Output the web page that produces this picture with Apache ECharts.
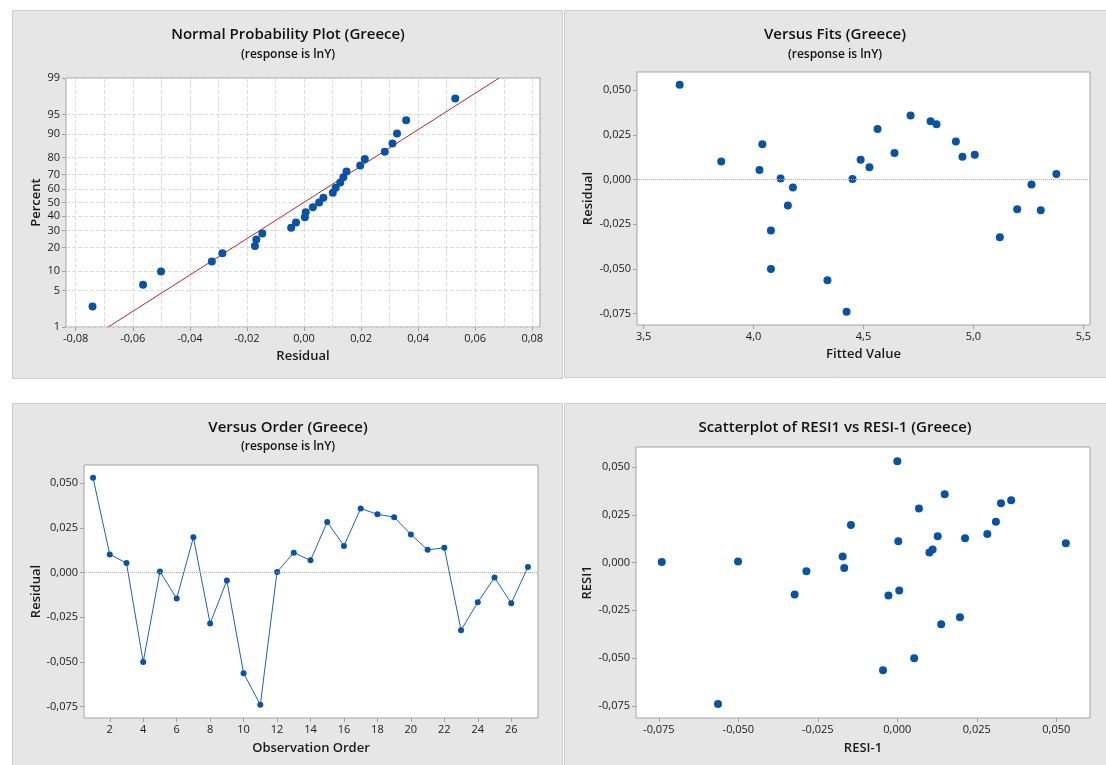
<!DOCTYPE html>
<html>
<head>
<meta charset="utf-8">
<script src="https://cdn.jsdelivr.net/npm/echarts@6/dist/echarts.min.js"></script>
<style>
  html, body { margin: 0; padding: 0; background: #ffffff; }
  #chart { width: 1106px; height: 765px; }
</style>
</head>
<body>
<div id="chart"></div>
<script>
// Residuals of the lnY model (Greece), in observation order
const observation = [1, 2, 3, 4, 5, 6, 7, 8, 9, 10, 11, 12, 13, 14, 15, 16, 17, 18, 19, 20, 21, 22, 23, 24, 25, 26, 27];
const residuals = [0.0530, 0.0101, 0.0053, -0.0501, 0.0006, -0.0146, 0.0197, -0.0286, -0.0045, -0.0564,
                   -0.0741, 0.0003, 0.0111, 0.0068, 0.0283, 0.0149, 0.0358, 0.0326, 0.0310, 0.0213,
                   0.0127, 0.0138, -0.0323, -0.0167, -0.0028, -0.0172, 0.0031];
// Lagged residuals (RESI-1); the first observation has no predecessor and is stored as 0
const resiLag = [0.0000, 0.0530, 0.0101, 0.0053, -0.0501, 0.0006, -0.0146, 0.0197, -0.0286, -0.0045,
                 -0.0564, -0.0741, 0.0003, 0.0111, 0.0068, 0.0283, 0.0149, 0.0358, 0.0326, 0.0310,
                 0.0213, 0.0127, 0.0138, -0.0323, -0.0167, -0.0028, -0.0172];
// Fitted values, same order
const fitted = [3.664, 3.853, 4.027, 4.079, 4.123, 4.156, 4.040, 4.079, 4.179, 4.336,
                4.423, 4.450, 4.487, 4.527, 4.564, 4.641, 4.714, 4.805, 4.832, 4.920,
                4.950, 5.006, 5.120, 5.199, 5.264, 5.306, 5.377];
// Plotting positions (percent) of the ranked residuals
const probPercent = [2.6, 6.2, 9.9, 13.5, 17.2, 20.8, 24.5, 28.1, 31.8, 35.4, 39.1, 42.7, 46.4, 50.0,
                     53.6, 57.3, 60.9, 64.6, 68.2, 71.9, 75.5, 79.2, 82.8, 86.5, 90.1, 93.8, 97.4];
// End points of the fitted normal line
const normLineResid = [-0.0686, 0.0684];
const normLinePercent = [1, 99];

// Tick values
const probTicks = [1, 5, 10, 20, 30, 40, 50, 60, 70, 80, 90, 95, 99];
const normXTicks = [-0.08, -0.06, -0.04, -0.02, 0, 0.02, 0.04, 0.06, 0.08];
const normXGrid = [-0.08, -0.07, -0.06, -0.05, -0.04, -0.03, -0.02, -0.01, 0, 0.01, 0.02, 0.03, 0.04, 0.05, 0.06, 0.07, 0.08];
const residTicks = [-0.075, -0.05, -0.025, 0, 0.025, 0.05];
const fitTicks = [3.5, 4.0, 4.5, 5.0, 5.5];
const orderTicks = [2, 4, 6, 8, 10, 12, 14, 16, 18, 20, 22, 24, 26];

// Inverse standard normal CDF (Acklam) for the probability axis
function probit(p) {
  const a = [-3.969683028665376e+01, 2.209460984245205e+02, -2.759285104469687e+02, 1.383577518672690e+02, -3.066479806614716e+01, 2.506628277459239e+00];
  const b = [-5.447609879822406e+01, 1.615858368580409e+02, -1.556989798598866e+02, 6.680131188771972e+01, -1.328068155288572e+01];
  const c = [-7.784894002430293e-03, -3.223964580411365e-01, -2.400758277161838e+00, -2.549732539343734e+00, 4.374664141464968e+00, 2.938163982698783e+00];
  const d = [7.784695709041462e-03, 3.224671290700398e-01, 2.445134137142996e+00, 3.754408661907416e+00];
  const pl = 0.02425, ph = 1 - pl;
  let q, r;
  if (p < pl) {
    q = Math.sqrt(-2 * Math.log(p));
    return (((((c[0]*q+c[1])*q+c[2])*q+c[3])*q+c[4])*q+c[5]) / ((((d[0]*q+d[1])*q+d[2])*q+d[3])*q+1);
  }
  if (p > ph) {
    q = Math.sqrt(-2 * Math.log(1 - p));
    return -(((((c[0]*q+c[1])*q+c[2])*q+c[3])*q+c[4])*q+c[5]) / ((((d[0]*q+d[1])*q+d[2])*q+d[3])*q+1);
  }
  q = p - 0.5; r = q * q;
  return (((((a[0]*r+a[1])*r+a[2])*r+a[3])*r+a[4])*r+a[5])*q / (((((b[0]*r+b[1])*r+b[2])*r+b[3])*r+b[4])*r+1);
}

const FONT = '"Open Sans", "Noto Sans", sans-serif';
const BLUE = '#0a52a3';
const BORDER = '#a3a3a3';
const TEXT = '#1a1a1a';

const fmt = d => v => (Math.abs(v) < 1e-12 ? 0 : v).toFixed(d).replace('.', ',');

function axisBase(extra) {
  return Object.assign({
    type: 'value',
    axisLine: { show: false, onZero: false },
    splitLine: { show: false },
    nameLocation: 'middle',
    nameTextStyle: { color: TEXT, fontSize: 13, fontFamily: FONT, fontWeight: 600 }
  }, extra);
}
function ticks(values, formatter) {
  return {
    axisTick: { show: true, length: 4, lineStyle: { color: BORDER, width: 1 }, customValues: values },
    axisLabel: { color: TEXT, fontSize: 11, fontFamily: FONT, margin: 6, customValues: values, formatter: formatter }
  };
}

const zMin = probit(normLinePercent[0] / 100);
const zMax = probit(normLinePercent[1] / 100);
const probTickZ = probTicks.map(p => probit(p / 100));
const probLabel = z => {
  let best = probTicks[0], bd = Infinity;
  probTicks.forEach(p => { const dd = Math.abs(probit(p / 100) - z); if (dd < bd) { bd = dd; best = p; } });
  return String(best);
};

const sortedResid = residuals.slice().sort((a, b) => a - b);
const zeroLine = {
  silent: true, symbol: 'none', label: { show: false },
  lineStyle: { type: 'dotted', color: '#a8a8a8', width: 1 },
  data: [{ yAxis: 0 }]
};

const gridStyle = { show: true, backgroundColor: '#ffffff', borderColor: BORDER, borderWidth: 1 };
const dashedGrid = { show: true, lineStyle: { type: 'dashed', color: '#dadada', width: 1 } };

// Panel backgrounds and headings
const panels = [
  { x: 12, y: 10, w: 550, h: 368 },
  { x: 564, y: 10, w: 542, h: 367 },
  { x: 12, y: 403, w: 550, h: 362 },
  { x: 564, y: 403, w: 542, h: 362 }
];
const headings = [
  { cx: 288, ty: 35, title: 'Normal Probability Plot (Greece)', sub: '(response is lnY)', sy: 55 },
  { cx: 835, ty: 35, title: 'Versus Fits (Greece)', sub: '(response is lnY)', sy: 55 },
  { cx: 288, ty: 428, title: 'Versus Order (Greece)', sub: '(response is lnY)', sy: 447 },
  { cx: 835, ty: 428, title: 'Scatterplot of RESI1 vs RESI-1 (Greece)', sub: null }
];
const graphics = [];
panels.forEach(p => graphics.push({
  type: 'rect', z: -10, silent: true,
  shape: { x: p.x + 0.5, y: p.y + 0.5, width: p.w, height: p.h },
  style: { fill: '#e6e6e6', stroke: '#cdcdcd', lineWidth: 1 }
}));
headings.forEach(h => {
  graphics.push({
    type: 'text', z: 10, silent: true, x: h.cx, y: h.ty,
    style: { text: h.title, fill: '#111', font: '600 15px ' + FONT, textAlign: 'center', textVerticalAlign: 'middle' }
  });
  if (h.sub) graphics.push({
    type: 'text', z: 10, silent: true, x: h.cx, y: h.sy,
    style: { text: h.sub, fill: '#111', font: '600 12px ' + FONT, textAlign: 'center', textVerticalAlign: 'middle' }
  });
});

const option = {
  backgroundColor: '#ffffff',
  animation: false,
  graphic: graphics,
  grid: [
    Object.assign({ left: 66, top: 78, width: 474, height: 249 }, gridStyle),
    Object.assign({ left: 637, top: 72, width: 453, height: 253 }, gridStyle),
    Object.assign({ left: 84, top: 465, width: 454, height: 253 }, gridStyle),
    Object.assign({ left: 636, top: 447, width: 454, height: 271 }, gridStyle)
  ],
  xAxis: [
    axisBase(Object.assign({ gridIndex: 0, min: -0.0834, max: 0.0827, name: 'Residual', nameGap: 23 }, ticks(normXTicks, fmt(2)))),
    axisBase({ gridIndex: 0, min: -0.0834, max: 0.0827,
      axisTick: { show: false, customValues: normXGrid },
      axisLabel: { show: false, customValues: normXGrid },
      splitLine: dashedGrid }),
    axisBase(Object.assign({ gridIndex: 1, min: 3.470, max: 5.530, name: 'Fitted Value', nameGap: 23 }, ticks(fitTicks, fmt(1)))),
    axisBase(Object.assign({ gridIndex: 2, min: 0.46, max: 27.6, name: 'Observation Order', nameGap: 24 }, ticks(orderTicks, v => String(Math.round(v))))),
    axisBase(Object.assign({ gridIndex: 3, min: -0.0822, max: 0.0606, name: 'RESI-1', nameGap: 24 }, ticks(residTicks, fmt(3))))
  ],
  yAxis: [
    axisBase(Object.assign({ gridIndex: 0, min: zMin, max: zMax, name: 'Percent', nameGap: 23, splitLine: dashedGrid }, ticks(probTickZ, probLabel))),
    axisBase(Object.assign({ gridIndex: 1, min: -0.0815, max: 0.0602, name: 'Residual', nameGap: 42 }, ticks(residTicks, fmt(3)))),
    axisBase(Object.assign({ gridIndex: 2, min: -0.0815, max: 0.0602, name: 'Residual', nameGap: 41 }, ticks(residTicks, fmt(3)))),
    axisBase(Object.assign({ gridIndex: 3, min: -0.0814, max: 0.0605, name: 'RESI1', nameGap: 42 }, ticks(residTicks, fmt(3))))
  ],
  series: [
    {
      type: 'line', xAxisIndex: 0, yAxisIndex: 0, silent: true, symbol: 'none', z: 3,
      lineStyle: { color: '#b3262a', width: 1 },
      data: normLineResid.map((r, i) => [r, probit(normLinePercent[i] / 100)])
    },
    {
      type: 'scatter', xAxisIndex: 0, yAxisIndex: 0, silent: true, symbolSize: 8, z: 4,
      itemStyle: { color: BLUE, opacity: 1 },
      data: sortedResid.map((r, i) => [r, probit(probPercent[i] / 100)])
    },
    {
      type: 'scatter', xAxisIndex: 2, yAxisIndex: 1, silent: true, symbolSize: 8,
      itemStyle: { color: BLUE, opacity: 1 },
      markLine: zeroLine,
      data: fitted.map((f, i) => [f, residuals[i]])
    },
    {
      type: 'line', xAxisIndex: 3, yAxisIndex: 2, silent: true, symbol: 'circle', symbolSize: 6,
      itemStyle: { color: BLUE }, lineStyle: { color: '#1f62b0', width: 1 },
      markLine: zeroLine,
      data: observation.map((o, i) => [o, residuals[i]])
    },
    {
      type: 'scatter', xAxisIndex: 4, yAxisIndex: 3, silent: true, symbolSize: 8,
      itemStyle: { color: BLUE, opacity: 1 },
      data: resiLag.map((x, i) => [x, residuals[i]])
    }
  ]
};

const chart = echarts.init(document.getElementById('chart'), null, { renderer: 'canvas' });
chart.setOption(option);
</script>
</body>
</html>
